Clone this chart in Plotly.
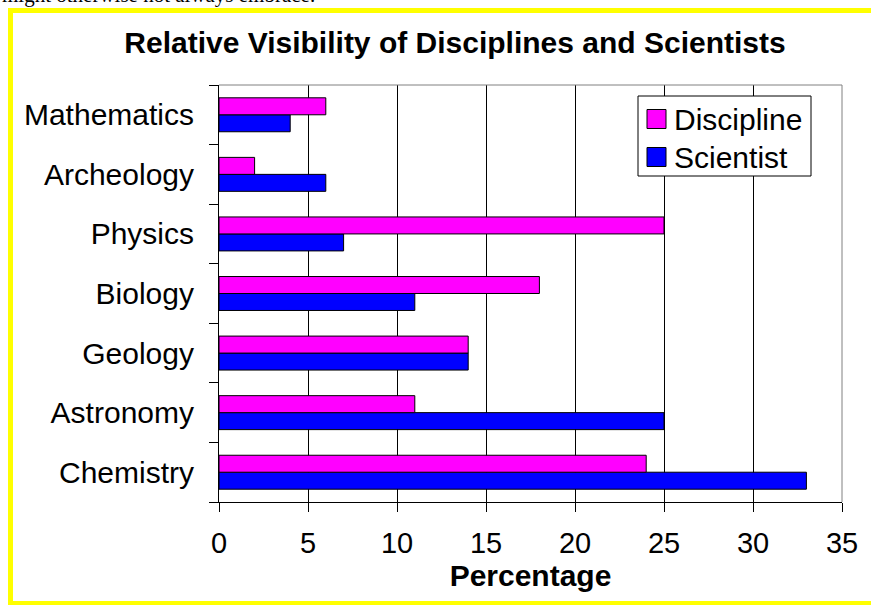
import plotly.graph_objects as go

categories = ["Chemistry", "Astronomy", "Geology", "Biology", "Physics", "Archeology", "Mathematics"]
discipline = [24, 11, 14, 18, 25, 2, 6]
scientist = [33, 25, 14, 11, 7, 6, 4]
x_ticks = [0, 5, 10, 15, 20, 25, 30, 35]
series_names = ["Discipline", "Scientist"]
series_colors = ["#FF00FF", "#0000FF"]

W, H = 871, 605
L, R, T, B = 219, 842, 85, 502

def px2x(p):
    return (p - L) / (R - L)

def px2y(p):
    return (B - p) / (B - T)

fig = go.Figure()
fig.add_trace(go.Bar(y=categories, x=scientist, name=series_names[1], orientation="h",
                     marker=dict(color=series_colors[1], line=dict(color="black", width=1))))
fig.add_trace(go.Bar(y=categories, x=discipline, name=series_names[0], orientation="h",
                     marker=dict(color=series_colors[0], line=dict(color="black", width=1))))

fig.update_layout(
    width=W, height=H,
    margin=dict(l=L, r=W - R, t=T, b=H - B, pad=0),
    paper_bgcolor="white", plot_bgcolor="white",
    barmode="group", bargap=0.43, bargroupgap=0,
    font=dict(family="Liberation Sans, Arial", color="black"),
    title=dict(text="<b>Relative Visibility of Disciplines and Scientists</b>",
               font=dict(size=30, family="Liberation Sans, Arial"),
               x=px2x(455), xref="paper", xanchor="center",
               y=1 - 42 / H, yanchor="middle"),
    showlegend=False,
    xaxis=dict(range=[0, 35], tickvals=x_ticks, ticks="outside", ticklen=9,
               tickcolor="black", showline=True, linecolor="black", linewidth=1,
               showgrid=True, gridcolor="black", gridwidth=1, zeroline=False,
               tickfont=dict(size=29), ticklabelstandoff=6,
               title=dict(text="<b>Percentage</b>", font=dict(size=30), standoff=2)),
    yaxis=dict(categoryorder="array", categoryarray=categories,
               ticks="outside", ticklen=9, tickcolor="black", tickson="boundaries",
               showline=True, linecolor="black", linewidth=1, showgrid=False,
               tickfont=dict(size=30), ticklabelstandoff=18),
)

# gray plot-area border (top and right)
fig.add_shape(type="line", xref="paper", yref="paper", x0=0, x1=1, y0=1, y1=1,
              line=dict(color="#808080", width=1))
fig.add_shape(type="line", xref="paper", yref="paper", x0=1, x1=1, y0=0, y1=1,
              line=dict(color="#808080", width=1))

# legend box (drawn manually to match the compact reference legend)
fig.add_shape(type="rect", xref="paper", yref="paper",
              x0=px2x(638), x1=px2x(811), y0=px2y(176), y1=px2y(96),
              line=dict(color="black", width=1), fillcolor="white", layer="above")
row_centers = [119, 157]
for name, color, yc in zip(series_names, series_colors, row_centers):
    fig.add_shape(type="rect", xref="paper", yref="paper",
                  x0=px2x(647), x1=px2x(666), y0=px2y(yc + 9.5), y1=px2y(yc - 9.5),
                  line=dict(color="black", width=1), fillcolor=color, layer="above")
    fig.add_annotation(text=name, xref="paper", yref="paper",
                       x=px2x(672), y=px2y(yc), xanchor="left", yanchor="middle",
                       showarrow=False, font=dict(size=30, color="black"))

# yellow frame (left, top, bottom edges; right edge lies outside the picture)
frame = dict(color="#FFFF00", width=5)
fig.add_shape(type="line", xref="paper", yref="paper",
              x0=px2x(10.5), x1=px2x(10.5), y0=px2y(606), y1=px2y(8), line=frame, layer="above")
fig.add_shape(type="line", xref="paper", yref="paper",
              x0=px2x(8), x1=px2x(880), y0=px2y(10.5), y1=px2y(10.5), line=frame, layer="above")
fig.add_shape(type="line", xref="paper", yref="paper",
              x0=px2x(8), x1=px2x(880), y0=px2y(603.5), y1=px2y(603.5), line=frame, layer="above")

# cut-off text line from the page above
fig.add_annotation(text="might otherwise not always embrace.", xref="paper", yref="paper",
                   x=px2x(0), y=px2y(-5), xanchor="left", yanchor="middle",
                   showarrow=False, font=dict(family="Liberation Serif, Times New Roman", size=21, color="black"))

fig.write_html("out.html", config={"displayModeBar": False},
               post_script="document.body.style.margin='0';document.body.style.padding='0';")
